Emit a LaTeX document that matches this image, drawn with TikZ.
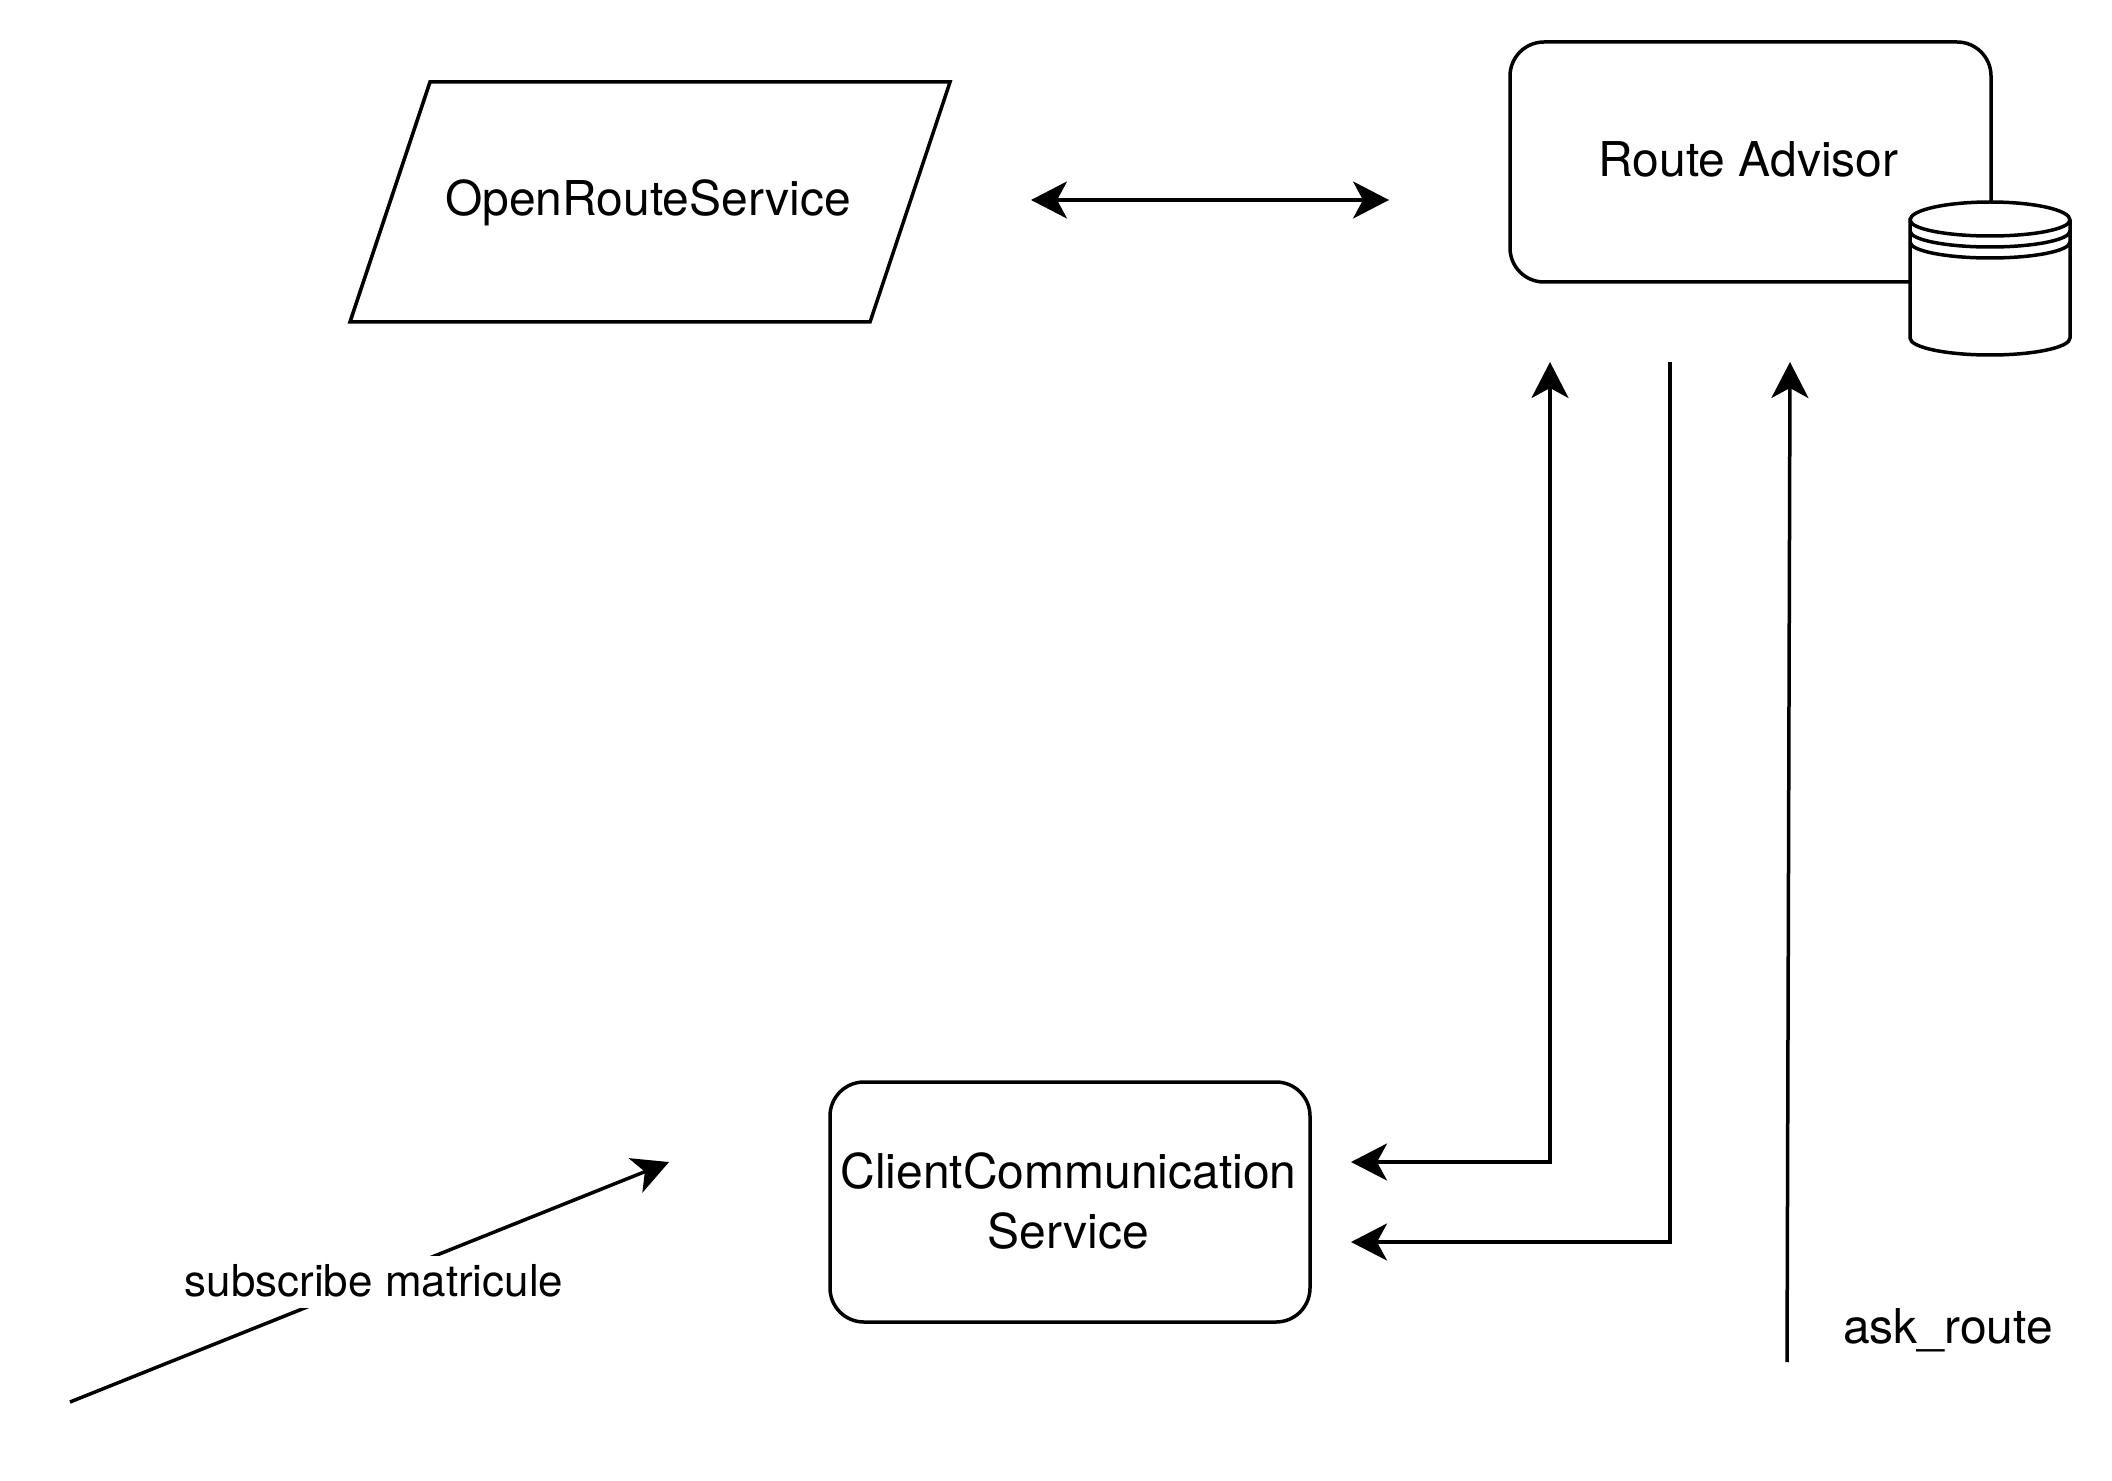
\documentclass[tikz,border=0pt]{standalone}
\usepackage{fontspec}
\setmainfont{TeX Gyre Heros}
\usetikzlibrary{positioning,arrows.meta}

\tikzset{
	tip/.tip={Stealth[length=3.6mm,width=3.7mm,inset=1mm]},
	flow/.style={-tip,line width=0.35mm},
	service/.style={draw,line width=0.35mm,rounded corners=3.4mm,align=center,inner sep=0pt,font=\fontsize{13.65}{17}\selectfont},
	caption/.style={inner sep=0pt,anchor=base,font=\fontsize{13.65}{17}\selectfont}
}

\begin{document}
\begin{tikzpicture}[x=0.1mm,y=-0.1mm]
\useasboundingbox (0,0) rectangle (2112,1480);

\draw[line width=0.35mm](430,82)--(950,82)--(870,322)--(350,322)--cycle;
\node[caption](openroute) at (648,216){OpenRouteService};
\node[service,minimum width=48.1mm,minimum height=24mm,text depth=0.6mm](advisor) at (1750.5,162){Route Advisor\kern0.4mm};
\node[service,minimum width=48mm,minimum height=24mm,text depth=0.3mm](client) at (1070,1202){ClientCommunication\kern0.3mm\\Service\kern0.3mm};

\foreach \n/\x/\y in {orsout/1031/200,advin/1389/200,upin/1550/362,upout/1351/1162,upbend/1550/1162,downin/1670/362,downout/1351/1242,downbend/1670/1242,askfrom/1787/1362,askto/1790/362,subfrom/70/1402,subto/669/1162}
	\coordinate(\n) at (\x,\y);

\draw[flow,tip-tip](orsout)--(advin);
\draw[flow,tip-tip](upout)--(upbend)--(upin);
\draw[flow](downin)--(downbend)--(downout);
\draw[flow](askfrom)--(askto);
\draw[flow](subfrom)--(subto);

% datastore on the corner of the box
\coordinate(store) at (1910,220);
\draw[line width=0.35mm,fill=white](store)--(1910,338) arc[start angle=180,end angle=360,x radius=8mm,y radius=1.7mm]--(2070,220) arc[start angle=0,end angle=180,x radius=8mm,y radius=1.8mm]--cycle;
\foreach \y in {220,231,242}
	\draw[line width=0.35mm](1910,\y) arc[start angle=180,end angle=360,x radius=8mm,y radius=1.6mm];

\node[caption,fill=white,text height=4mm,text depth=1.2mm,font=\fontsize{12.5}{15}\selectfont](subscribe) at (374,1296){subscribe matricule};
\node[caption](askroute) at (1948,1343){ask\_route};
\end{tikzpicture}
\end{document}
